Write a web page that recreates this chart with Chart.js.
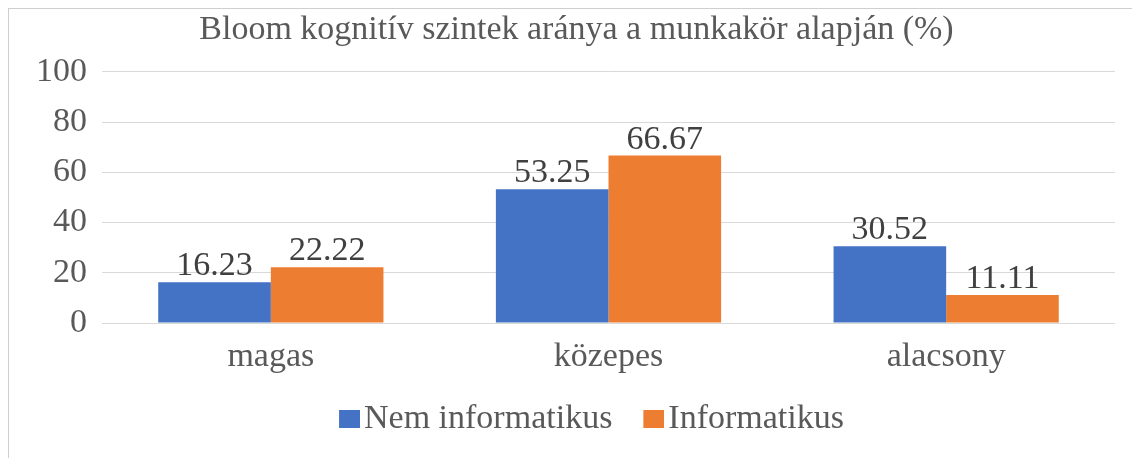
<!DOCTYPE html>
<html>
<head>
<meta charset="utf-8">
<script src="https://cdn.jsdelivr.net/npm/chart.js@4"></script>
<style>
  html, body { margin: 0; padding: 0; background: #fff; }
  #wrap { width: 1132px; height: 458px; position: relative; }
</style>
</head>
<body>
<div id="wrap"><canvas id="bloomChart"></canvas></div>
<script>
const categories = ["magas", "közepes", "alacsony"];
const nemInformatikus = [16.23, 53.25, 30.52];
const informatikus = [22.22, 66.67, 11.11];
const seriesNames = ["Nem informatikus", "Informatikus"];
const seriesColors = ["#4472C4", "#ED7D31"];
const titleText = "Bloom kognitív szintek aránya a munkakör alapján (%)";

const textColor = "#595959";
const fontFamily = "'Liberation Serif', 'Times New Roman', serif";
const fontSize = 34;

// jelmagyarázat négyzete: kis kép, a szín a jobb szélén (szorosan a szöveg előtt)
function legendSwatch(color) {
  const cv = document.createElement("canvas");
  cv.width = 64;
  cv.height = 18;
  const g = cv.getContext("2d");
  g.fillStyle = color;
  g.fillRect(43, 0, 21, 18);
  return cv;
}
const swatches = seriesColors.map(legendSwatch);

// kerettel körbe, mint az eredeti ábrán
const frame = {
  id: "frame",
  beforeDraw(chart) {
    const c = chart.ctx;
    c.save();
    c.strokeStyle = "#cfcfcf";
    c.lineWidth = 1;
    c.strokeRect(8.5, 8.5, chart.width + 20, chart.height + 20);
    c.restore();
  },
};

// értékcímkék az oszlopok fölött
const valueLabels = {
  id: "valueLabels",
  afterDatasetsDraw(chart) {
    const c = chart.ctx;
    c.save();
    c.font = fontSize + "px " + fontFamily;
    c.fillStyle = "#404040";
    c.textAlign = "center";
    c.textBaseline = "alphabetic";
    chart.data.datasets.forEach((ds, i) => {
      chart.getDatasetMeta(i).data.forEach((bar, j) => {
        c.fillText(ds.data[j].toFixed(2), bar.x, bar.y - 7);
      });
    });
    c.restore();
  },
};

const ctx = document.getElementById("bloomChart").getContext("2d");
new Chart(ctx, {
  type: "bar",
  data: {
    labels: categories,
    datasets: [
      {
        label: seriesNames[0],
        data: nemInformatikus,
        backgroundColor: seriesColors[0],
        categoryPercentage: 0.667,
        barPercentage: 1.0,
      },
      {
        label: seriesNames[1],
        data: informatikus,
        backgroundColor: seriesColors[1],
        categoryPercentage: 0.667,
        barPercentage: 1.0,
      },
    ],
  },
  options: {
    responsive: true,
    maintainAspectRatio: false,
    animation: false,
    layout: { padding: { left: 38, right: 17, top: 0, bottom: 12 } },
    scales: {
      x: {
        grid: { display: false, drawTicks: false },
        border: { display: false },
        ticks: { color: textColor, font: { family: fontFamily, size: fontSize }, padding: 14 },
        afterFit(scale) { scale.height = 78; },
      },
      y: {
        min: 0,
        max: 100,
        ticks: { stepSize: 20, color: textColor, font: { family: fontFamily, size: fontSize }, padding: 15 },
        grid: { color: "#d9d9d9", drawTicks: false },
        border: { display: false },
        afterFit(scale) { scale.width = 64; },
      },
    },
    plugins: {
      title: {
        display: true,
        text: titleText,
        color: textColor,
        font: { family: fontFamily, size: fontSize, weight: "normal" },
        padding: { top: 10, bottom: 21 },
      },
      legend: {
        position: "bottom",
        labels: {
          color: textColor,
          font: { family: fontFamily, size: fontSize },
          usePointStyle: true,
          pointStyleWidth: 38,
          boxHeight: 18,
          padding: 1,
          generateLabels(chart) {
            const items = Chart.defaults.plugins.legend.labels.generateLabels(chart);
            items.forEach((it) => { it.pointStyle = swatches[it.datasetIndex]; });
            return items;
          },
        },
      },
      tooltip: { enabled: false },
    },
  },
  plugins: [frame, valueLabels],
});
</script>
</body>
</html>
